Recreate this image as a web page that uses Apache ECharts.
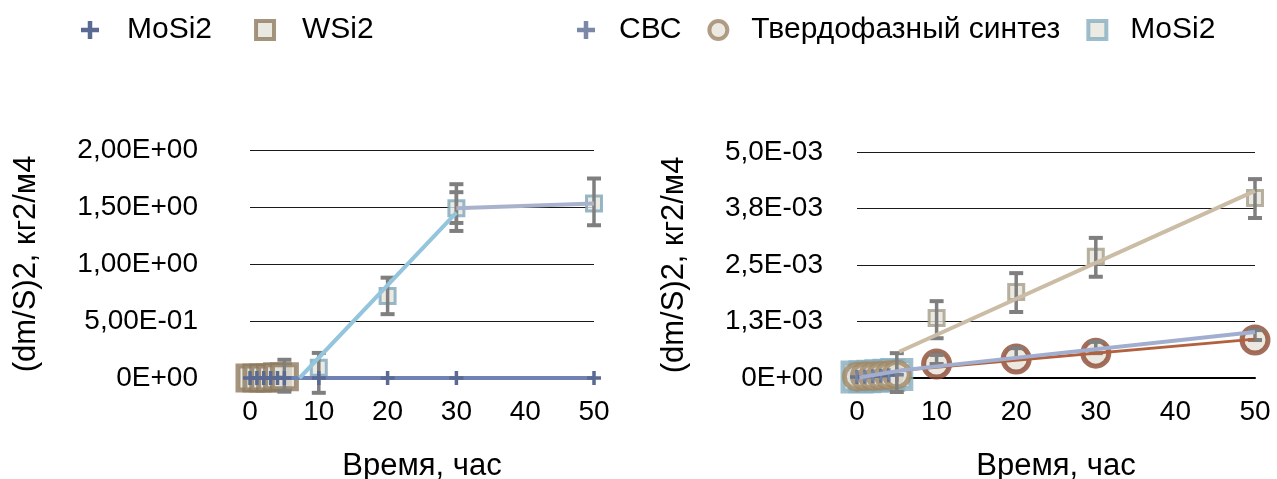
<!DOCTYPE html>
<html>
<head>
<meta charset="utf-8">
<script src="https://cdn.jsdelivr.net/npm/echarts@6/dist/echarts.min.js"></script>
<style>
html,body{margin:0;padding:0;background:#fff;}
#chart{width:1277px;height:479px;}
</style>
</head>
<body>
<div id="chart"></div>
<script>
// ---------- data ----------
const leftYTickLabels  = ['0E+00','5,00E-01','1,00E+00','1,50E+00','2,00E+00'];
const rightYTickLabels = ['0E+00','1,3E-03','2,5E-03','3,8E-03','5,0E-03'];
const xAxisTitle = 'Время, час';
const yAxisTitle = '(dm/S)2, кг2/м4';

const earlyHours = [0, 1, 2, 3, 4, 5];
const lateHours  = [10, 20, 30, 50];
const allHours   = [0, 1, 2, 3, 4, 5, 10, 20, 30, 50];

// left chart
const leftMoSi2      = [0, 0, 0, 0, 0, 0, 0, 0, 0, 0];
const leftWSi2       = [0, 0, 0, 0, 0.01, 0.01];
const leftMoSi2Late  = [0.09, 0.72, 1.49, 1.53];
const leftTrendRise  = [[7.2, 0], [30, 1.45]];
const leftTrendFlat  = [[30, 1.49], [50, 1.53]];
const leftErrX       = [5, 10, 20, 30, 30, 50];
const leftErrLow     = [-0.12, -0.13, 0.56, 1.29, 1.36, 1.34];
const leftErrHigh    = [0.16, 0.22, 0.88, 1.70, 1.63, 1.75];

// right chart
const rightSHSEarly    = [0.00002, 0.00003, 0.00004, 0.00005, 0.00006, 0.00007];
const rightSolidEarly  = [0.00003, 0.00004, 0.00004, 0.00005, 0.00006, 0.00008];
const rightMoSi2Early  = [0.00002, 0.00003, 0.00004, 0.00005, 0.00006, 0.00008];
const rightSolidLate   = [0.00031, 0.00042, 0.00055, 0.00084];
const rightWSi2Late    = [0.00133, 0.00190, 0.00268, 0.00398];
const rightTrendBeige  = [[5.3, 0.00058], [50, 0.00414]];
const rightTrendRed    = [[5, 0.00016], [50, 0.00086]];
const rightTrendLav    = [[0.3, 0.00001], [6, 0.00018], [50, 0.00102]];
const rightErrX        = [5, 10, 20, 30, 50, 10, 20, 30, 50];
const rightErrLow      = [-0.00031, 0.00088, 0.00146, 0.00224, 0.00354, 0.00031, 0.00042, 0.00055, 0.00084];
const rightErrHigh     = [0.00055, 0.00170, 0.00232, 0.00310, 0.00440, 0.00051, 0.00066, 0.00080, 0.00106];

// ---------- helpers ----------
const FONT = "'Liberation Sans', Arial, Helvetica, sans-serif";
const plusPath = 'path://M6,0H10V6H16V10H10V16H6V10H0V6H6Z';
const pairs = (xs, ys) => xs.map((x, i) => [x, ys[i]]);
const triples = (xs, lo, hi) => xs.map((x, i) => [x, lo[i], hi[i]]);

function errRender(params, api) {
  const x = api.value(0);
  const p1 = api.coord([x, api.value(1)]);
  const p2 = api.coord([x, api.value(2)]);
  const w = 7;
  const st = { stroke: '#7f7f7f', lineWidth: 3.5 };
  return {
    type: 'group',
    children: [
      { type: 'line', shape: { x1: p1[0], y1: p1[1], x2: p2[0], y2: p2[1] }, style: st },
      { type: 'line', shape: { x1: p1[0] - w, y1: p1[1], x2: p1[0] + w, y2: p1[1] }, style: { stroke: '#7f7f7f', lineWidth: 4 } },
      { type: 'line', shape: { x1: p2[0] - w, y1: p2[1], x2: p2[0] + w, y2: p2[1] }, style: { stroke: '#7f7f7f', lineWidth: 4 } }
    ]
  };
}

function xAxisCfg(gridIndex) {
  return {
    type: 'value', gridIndex, min: 0, max: 50, interval: 10,
    splitLine: { show: false },
    axisTick: { show: false },
    axisLine: { show: true, lineStyle: { color: '#000', width: 2 } },
    axisLabel: { fontSize: 28, color: '#000', margin: 20, fontFamily: FONT },
    name: xAxisTitle, nameLocation: 'middle', nameGap: 73,
    nameTextStyle: { fontSize: 31, color: '#000', fontFamily: FONT }
  };
}
function yAxisCfg(gridIndex, max, interval, labels, margin, nameGap) {
  return {
    type: 'value', gridIndex, min: 0, max, interval,
    axisLine: { show: false }, axisTick: { show: false },
    splitLine: { show: true, lineStyle: { color: '#1a1a1a', width: 1.2 } },
    axisLabel: {
      fontSize: 28, color: '#000', margin, fontFamily: FONT,
      formatter: v => labels[Math.round(v / interval)]
    },
    name: yAxisTitle, nameLocation: 'middle', nameGap, nameRotate: 90,
    nameTextStyle: { fontSize: 31, color: '#000', fontFamily: FONT }
  };
}

const chart = echarts.init(document.getElementById('chart'), null, { renderer: 'canvas' });
chart.setOption({
  animation: false,
  backgroundColor: '#fff',
  textStyle: { fontFamily: FONT },
  legend: [
    {
      left: 76, top: 10, itemWidth: 18, itemHeight: 18, itemGap: 42, selectedMode: false,
      textStyle: { fontSize: 30, color: '#000', padding: [0, 0, 0, 23], fontFamily: FONT },
      data: [
        { name: 'MoSi2', icon: plusPath, itemStyle: { color: '#5a6a92', borderWidth: 0 } },
        { name: 'WSi2', icon: 'rect', itemStyle: { color: '#e4e3da', borderColor: '#8e7b5f', borderWidth: 4 } }
      ]
    },
    {
      left: 572, top: 10, itemWidth: 18, itemHeight: 18, itemGap: 26, selectedMode: false,
      textStyle: { fontSize: 30, color: '#000', padding: [0, 0, 0, 19], fontFamily: FONT },
      data: [
        { name: 'СВС', icon: plusPath, itemStyle: { color: '#5a6a92', borderWidth: 0 } },
        { name: 'Твердофазный синтез', icon: 'circle', itemStyle: { color: '#e6e4da', borderColor: '#9c8466', borderWidth: 4 } },
        { name: 'MoSi2 ', icon: 'rect', itemStyle: { color: '#e6e6dc', borderColor: '#86aec0', borderWidth: 4 } }
      ]
    }
  ],
  grid: [
    { left: 250, top: 150, width: 344, height: 228, containLabel: false, outerBoundsMode: 'none' },
    { left: 857, top: 152, width: 398, height: 226, containLabel: false, outerBoundsMode: 'none' }
  ],
  xAxis: [xAxisCfg(0), xAxisCfg(1)],
  yAxis: [
    yAxisCfg(0, 2, 0.5, leftYTickLabels, 52, 208),
    yAxisCfg(1, 0.005, 0.00125, rightYTickLabels, 34, 167)
  ],
  series: [
    // ----- left chart -----
    { name: 'WSi2', type: 'scatter', xAxisIndex: 0, yAxisIndex: 0, z: 2,
      data: pairs(earlyHours, leftWSi2), symbol: 'rect', symbolSize: 24,
      itemStyle: { color: '#e4e3da', borderColor: '#8e7b5f', borderWidth: 5 } },
    { type: 'line', xAxisIndex: 0, yAxisIndex: 0, z: 3, symbol: 'none',
      data: pairs(earlyHours, leftWSi2), lineStyle: { color: '#c8ad88', width: 3 } },
    { type: 'scatter', xAxisIndex: 0, yAxisIndex: 0, z: 2,
      data: pairs(lateHours, leftMoSi2Late), symbol: 'rect', symbolSize: 15,
      itemStyle: { color: '#e6e6dc', borderColor: '#7ea6ba', borderWidth: 3 } },
    { type: 'custom', xAxisIndex: 0, yAxisIndex: 0, z: 4, renderItem: errRender,
      encode: { x: 0, y: [1, 2] }, data: triples(leftErrX, leftErrLow, leftErrHigh) },
    { name: 'MoSi2', type: 'line', xAxisIndex: 0, yAxisIndex: 0, z: 5,
      data: pairs(allHours, leftMoSi2), symbol: plusPath, symbolSize: 14, showAllSymbol: true,
      itemStyle: { color: '#5a6a92' }, lineStyle: { color: '#7082b4', width: 4 } },
    { type: 'line', xAxisIndex: 0, yAxisIndex: 0, z: 6, symbol: 'none',
      data: leftTrendRise, lineStyle: { color: '#93c5dc', width: 4 } },
    { type: 'line', xAxisIndex: 0, yAxisIndex: 0, z: 6, symbol: 'none',
      data: leftTrendFlat, lineStyle: { color: '#a8b2cc', width: 4 } },

    // ----- right chart -----
    { name: 'MoSi2 ', type: 'scatter', xAxisIndex: 1, yAxisIndex: 1, z: 1,
      data: pairs(earlyHours, rightMoSi2Early), symbol: 'rect', symbolSize: 28,
      itemStyle: { color: '#e6e6dc', borderColor: '#86aec0', borderWidth: 5 } },
    { name: 'Твердофазный синтез', type: 'scatter', xAxisIndex: 1, yAxisIndex: 1, z: 2,
      data: pairs(earlyHours, rightSolidEarly), symbol: 'circle', symbolSize: 25,
      itemStyle: { color: '#e6e4da', borderColor: '#a08866', borderWidth: 5 } },
    { name: 'СВС', type: 'scatter', xAxisIndex: 1, yAxisIndex: 1, z: 3,
      data: pairs(earlyHours, rightSHSEarly), symbol: plusPath, symbolSize: 14,
      itemStyle: { color: '#5a6a92' } },
    { type: 'scatter', xAxisIndex: 1, yAxisIndex: 1, z: 2,
      data: pairs(lateHours, rightSolidLate), symbol: 'circle', symbolSize: 26,
      itemStyle: { color: '#e6e4da', borderColor: '#8c4a32', borderWidth: 5 } },
    { type: 'scatter', xAxisIndex: 1, yAxisIndex: 1, z: 2,
      data: pairs(lateHours, rightWSi2Late), symbol: 'rect', symbolSize: 15,
      itemStyle: { color: '#e6e4da', borderColor: '#a59d8a', borderWidth: 3 } },
    { type: 'custom', xAxisIndex: 1, yAxisIndex: 1, z: 4, renderItem: errRender,
      encode: { x: 0, y: [1, 2] }, data: triples(rightErrX, rightErrLow, rightErrHigh) },
    { type: 'line', xAxisIndex: 1, yAxisIndex: 1, z: 6, symbol: 'none',
      data: rightTrendBeige, lineStyle: { color: '#cbbca6', width: 4 } },
    { type: 'line', xAxisIndex: 1, yAxisIndex: 1, z: 6, symbol: 'none',
      data: rightTrendRed, lineStyle: { color: '#b3603e', width: 3 } },
    { type: 'line', xAxisIndex: 1, yAxisIndex: 1, z: 7, symbol: 'none',
      data: rightTrendLav, lineStyle: { color: '#a2aed0', width: 4 } }
  ]
});
</script>
</body>
</html>
